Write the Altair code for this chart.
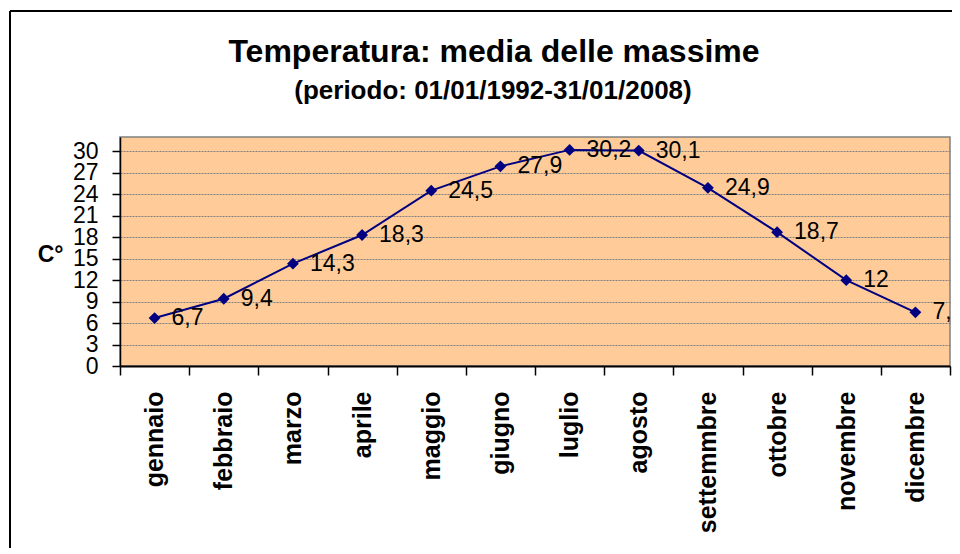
import altair as alt
import pandas as pd

months = ["gennaio", "febbraio", "marzo", "aprile", "maggio", "giugno",
          "luglio", "agosto", "settemmbre", "ottobre", "novembre", "dicembre"]
temps = [6.7, 9.4, 14.3, 18.3, 24.5, 27.9, 30.2, 30.1, 24.9, 18.7, 12, 7.5]
y_ticks = [0, 3, 6, 9, 12, 15, 18, 21, 24, 27, 30]
title_text = "Temperatura: media delle massime"
subtitle_text = "(periodo: 01/01/1992-31/01/2008)"

FONT = "Liberation Sans"
NAVY = "#000080"

df = pd.DataFrame({
    "mese": months,
    "temp": temps,
    "etichetta": [f"{v:g}".replace(".", ",") for v in temps],
})

x_enc = alt.X(
    "mese:N", sort=months, bandPosition=0.5,
    scale=alt.Scale(type="band", paddingInner=0, paddingOuter=0),
    axis=alt.Axis(title=None, labelAngle=-90, labelFontSize=25, labelFontWeight="bold",
                  labelColor="black", labelPadding=16, labelFont=FONT, labelLimit=0,
                  tickSize=9, tickColor="black", tickWidth=1.5, tickBand="extent",
                  domainColor="black", domainWidth=2, grid=False),
)
y_enc = alt.Y(
    "temp:Q",
    scale=alt.Scale(domain=[0, 32], nice=False, zero=True),
    axis=alt.Axis(values=y_ticks, title="C°", titleAngle=0, titleFontSize=23,
                  titleFontWeight="bold", titleAlign="right", titleBaseline="middle",
                  titleX=-57, titleY=117, titleColor="black", titleFont=FONT,
                  labelFontSize=23, labelPadding=14, labelColor="black", labelFont=FONT,
                  labelOverlap=False, labelFlush=False,
                  tickSize=8, tickColor="black", tickWidth=1.5,
                  domainColor="black", domainWidth=1.5,
                  gridColor="#808080", gridDash=[2, 1], gridWidth=1),
)

base = alt.Chart(df)
one = alt.Chart(pd.DataFrame({"k": [0]}))

border_top = one.mark_rule(color="black", strokeWidth=2).encode(
    x=alt.value(-110), x2=alt.value(834), y=alt.value(-126))
border_left = one.mark_rule(color="black", strokeWidth=2).encode(
    x=alt.value(-110), y=alt.value(-126), y2=alt.value(411))

title = one.mark_text(align="center", baseline="alphabetic", fontSize=32, fontWeight="bold",
                      font=FONT, color="black").encode(
    x=alt.value(374), y=alt.value(-75), text=alt.value(title_text))
subtitle = one.mark_text(align="center", baseline="alphabetic", fontSize=26, fontWeight="bold",
                         font=FONT, color="black").encode(
    x=alt.value(373), y=alt.value(-38), text=alt.value(subtitle_text))

line = base.mark_line(color=NAVY, strokeWidth=2).encode(x=x_enc, y=y_enc)
points = base.mark_point(shape="diamond", filled=True, size=140, color=NAVY, opacity=1).encode(
    x=x_enc, y=y_enc)
labels = base.mark_text(align="left", baseline="middle", dx=17, fontSize=23, font=FONT,
                        color="black").encode(x=x_enc, y=y_enc, text="etichetta:N")

chart = alt.layer(border_top, border_left, title, subtitle, line, points, labels).properties(
    width=830, height=229,
    autosize=alt.AutoSizeParams(type="none"),
    padding={"left": 112, "top": 129, "right": 2, "bottom": 182},
).configure(font=FONT).configure_view(
    fill="#FFCC99", stroke="#808080", strokeWidth=1.5
)

chart.save("out.html", embed_options={"renderer": "svg", "actions": False})
